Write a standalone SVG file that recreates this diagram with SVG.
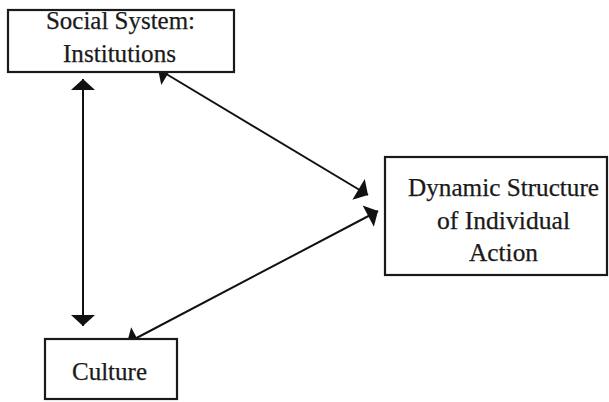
<svg xmlns="http://www.w3.org/2000/svg" width="609" height="402" viewBox="0 0 609 402">
<style>
.box{fill:#fff;stroke:#1a1a1a;stroke-width:2.2}
.lbl{font-family:'Liberation Serif','Times New Roman',Times,serif;font-size:25px;fill:#1a1a1a;stroke:#1a1a1a;stroke-width:0.25;text-anchor:middle}
.conn{stroke:#111;stroke-width:2;fill:none;marker-start:url(#ah);marker-end:url(#ah)}
</style>
<defs>
<marker id="ah" markerUnits="userSpaceOnUse" viewBox="-12 -13 13 26" refX="0" refY="0" markerWidth="13" markerHeight="26" orient="auto-start-reverse">
<path d="M0,0 L-11,-12 L-11,12 Z" fill="#111"/>
</marker>
</defs>
<rect width="609" height="402" fill="#fff"/>
<g id="connectors">
<line class="conn" x1="83" y1="79" x2="83" y2="326"/>
<line class="conn" x1="158" y1="69" x2="368" y2="195"/>
<line class="conn" x1="127" y1="343" x2="378" y2="211"/>
</g>
<g id="social-system">
<rect class="box" x="8" y="10" width="226" height="62"/>
<text class="lbl" x="120.5" y="29" textLength="149" lengthAdjust="spacingAndGlyphs">Social System:</text>
<text class="lbl" x="119.5" y="61.5" textLength="113" lengthAdjust="spacingAndGlyphs">Institutions</text>
</g>
<g id="dynamic-structure">
<rect class="box" x="385" y="157" width="222" height="118"/>
<text class="lbl" x="503.5" y="196" textLength="191" lengthAdjust="spacingAndGlyphs">Dynamic Structure</text>
<text class="lbl" x="503.5" y="229" textLength="133" lengthAdjust="spacingAndGlyphs">of Individual</text>
<text class="lbl" x="503.5" y="261" textLength="69" lengthAdjust="spacingAndGlyphs">Action</text>
</g>
<g id="culture">
<rect class="box" x="45" y="339" width="132" height="60"/>
<text class="lbl" x="109.5" y="380" textLength="75" lengthAdjust="spacingAndGlyphs">Culture</text>
</g>
</svg>
